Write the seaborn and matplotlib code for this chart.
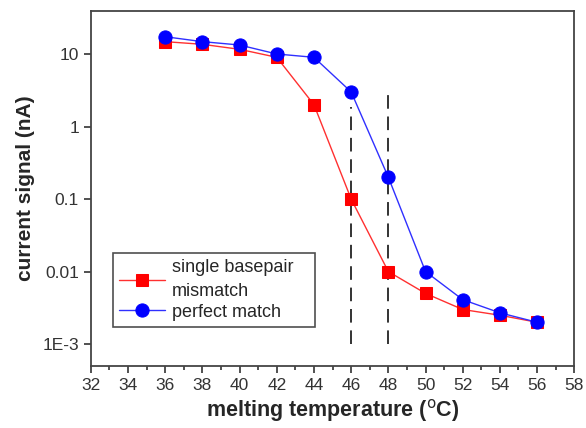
import numpy as np
import pandas as pd
import matplotlib
matplotlib.use('Agg')
import matplotlib.pyplot as plt
import matplotlib.ticker as mticker
import seaborn as sns

# data
temps = [36, 38, 40, 42, 44, 46, 48, 50, 52, 54, 56]
mismatch = [14.8, 13.6, 11.6, 9.0, 2.0, 0.1, 0.01, 0.005, 0.003, 0.0025, 0.002]
perfect = [17.3, 14.8, 13.3, 10.0, 9.0, 3.0, 0.2, 0.01, 0.0041, 0.0027, 0.002]
vline_x = [46, 48]
vline_top = [1.86, 3.3]
xticks = list(range(32, 59, 2))
yticks = [10, 1, 0.1, 0.01, 0.001]
ytick_labels = ['10', '1', '0.1', '0.01', '1E-3']

sns.set_style('ticks')
plt.rcParams['font.family'] = ['Liberation Sans', 'DejaVu Sans']

fig = plt.figure(figsize=(5.86, 4.28), dpi=100)
ax = fig.add_axes([0.155, 0.145, 0.825, 0.829])

df = pd.DataFrame({'T': temps, 'mm': mismatch, 'pm': perfect})

for x, top in zip(vline_x, vline_top):
    ax.vlines(x, 0.001, top, colors='#333333', linestyles=(0, (7, 4)), linewidth=1.4, zorder=1)

sns.lineplot(data=df, x='T', y='mm', ax=ax, color='#ff3030', linewidth=1,
             marker='s', markersize=8, markerfacecolor='#ff0000', markeredgecolor='#ff0000',
             label='single basepair   \nmismatch', zorder=3)
sns.lineplot(data=df, x='T', y='pm', ax=ax, color='#3030ff', linewidth=1,
             marker='o', markersize=9.5, markerfacecolor='#0000ff', markeredgecolor='#0000ff',
             label='perfect match', zorder=4)

ax.set_yscale('log')
ax.set_xlim(32, 58)
ax.set_ylim(5e-4, 39)
ax.set_xticks(xticks)
ax.xaxis.set_minor_locator(mticker.MultipleLocator(1))
ax.set_yticks(yticks)
ax.set_yticklabels(ytick_labels)
ax.yaxis.set_minor_locator(mticker.NullLocator())
ax.tick_params(axis='both', which='major', direction='out', length=5, width=1.2,
               labelsize=12.5, colors='#333333', labelcolor='#333333')
ax.tick_params(axis='x', which='minor', direction='out', length=3, width=1.2, colors='#333333')

for s in ax.spines.values():
    s.set_visible(True)
    s.set_linewidth(1.3)
    s.set_color('#444444')

ax.set_xlabel('melting temperature ($^{\\mathrm{o}}$C)', fontsize=15.5, fontweight='bold', labelpad=3)
ax.set_ylabel('current signal (nA)', fontsize=15, fontweight='bold', labelpad=5)

leg = ax.legend(loc='lower left', bbox_to_anchor=(0.046, 0.11), fontsize=13,
                frameon=True, fancybox=False, edgecolor='#222222', borderpad=0.35,
                handlelength=2.5, handletextpad=0.4, labelspacing=0.2, borderaxespad=0)
leg.get_frame().set_linewidth(1.2)
for t in leg.get_texts():
    t.set_linespacing(1.5)

fig.savefig('out.png', dpi=100)
